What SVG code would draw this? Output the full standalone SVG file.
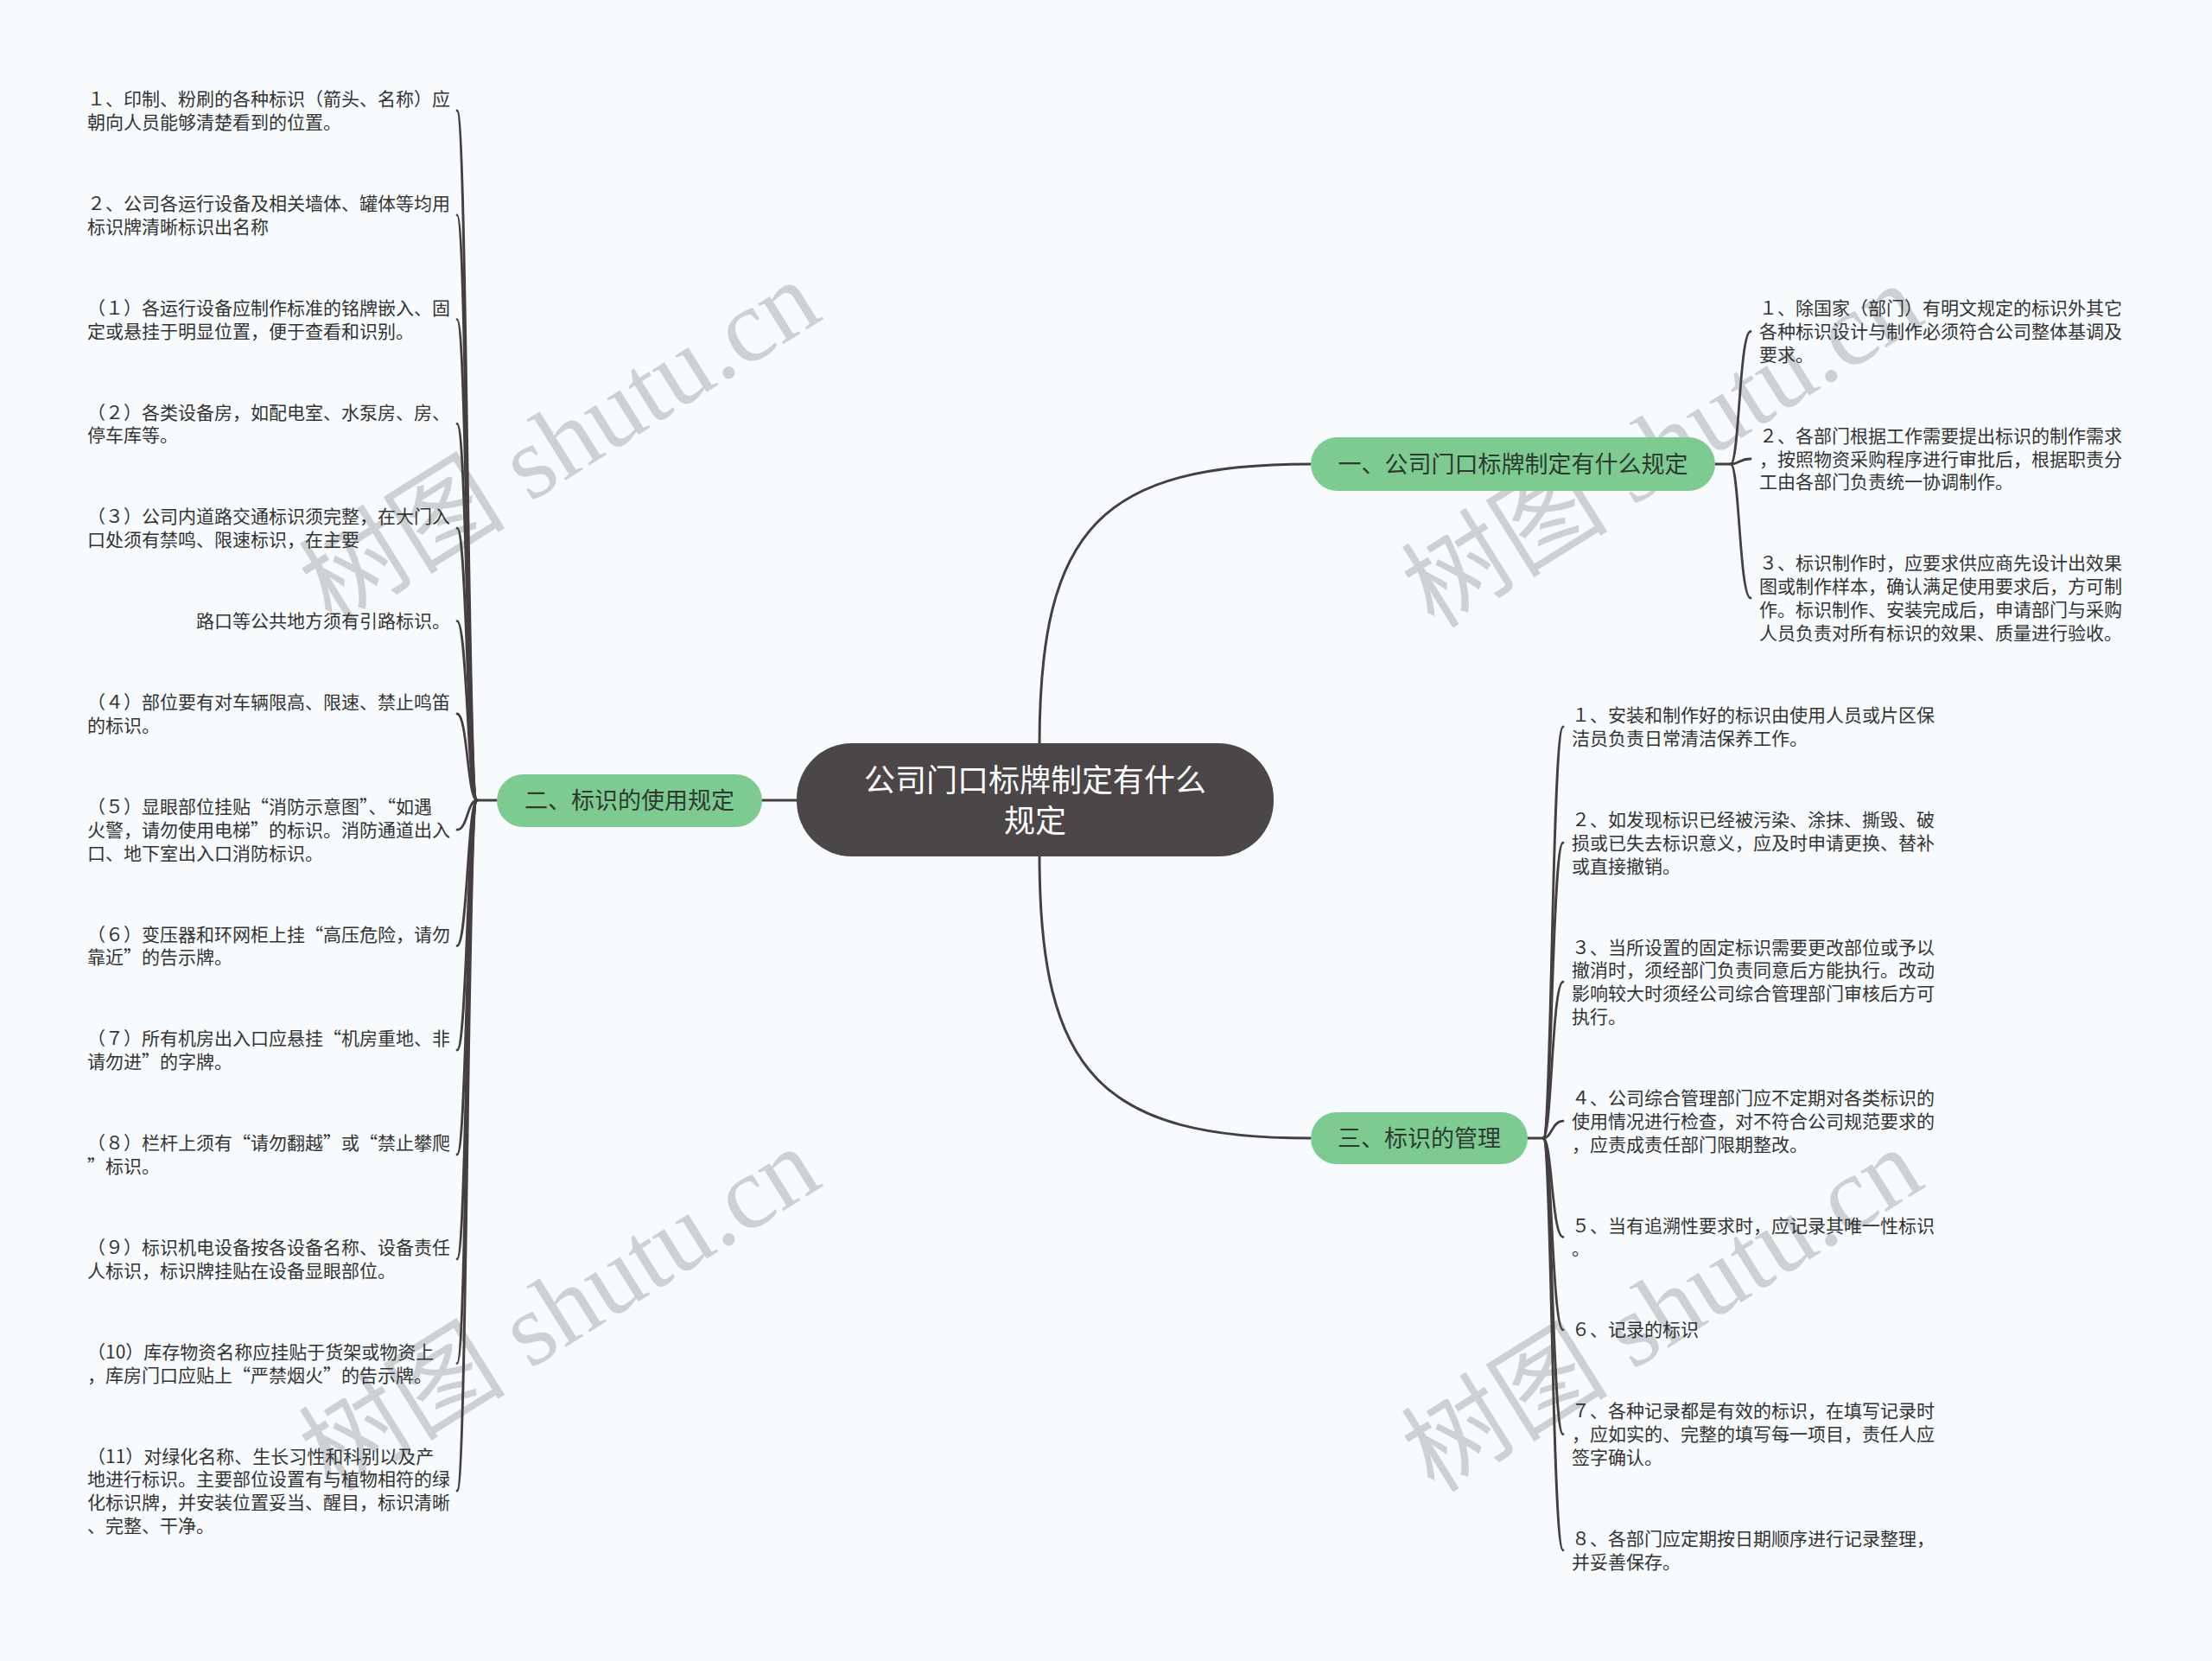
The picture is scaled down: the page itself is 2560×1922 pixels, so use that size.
<svg xmlns="http://www.w3.org/2000/svg" width="2560" height="1922" viewBox="0 0 2560 1922">
<defs>
<style>
.bg{fill:#f7fbfd}
.wm{font-family:"Liberation Serif","Noto Sans CJK SC",serif;font-size:120px;fill:#cdd1d3}
.conn{fill:none;stroke:#453f40;stroke-width:3;stroke-linecap:round}
.lc{fill:none;stroke:#453f40;stroke-width:2.8;stroke-linecap:round}
.leaf{font-family:"Noto Sans CJK SC","Noto Sans CJK JP",sans-serif;font-size:21px;fill:#333333}
.br rect{fill:#7dcb90}
.br text{font-family:"Noto Sans CJK SC",sans-serif;font-size:27px;fill:#2e3a31;text-anchor:middle}
.root rect{fill:#4b4647}
.root text{font-family:"Noto Sans CJK SC",sans-serif;font-size:36px;fill:#ffffff;text-anchor:middle}
</style>
</defs>
<rect class="bg" x="0" y="0" width="2560" height="1922"/>

<g id="watermarks">
<text class="wm" transform="translate(648,512) rotate(-32)" text-anchor="middle" dominant-baseline="central">树图 shutu.cn</text>
<text class="wm" transform="translate(1924,516) rotate(-32)" text-anchor="middle" dominant-baseline="central">树图 shutu.cn</text>
<text class="wm" transform="translate(648,1515) rotate(-32)" text-anchor="middle" dominant-baseline="central">树图 shutu.cn</text>
<text class="wm" transform="translate(1924,1516) rotate(-32)" text-anchor="middle" dominant-baseline="central">树图 shutu.cn</text>
</g>

<g id="connectors">
<path class="conn" d="M1203 862 C1203 610 1275 537 1517 537"/>
<path class="conn" d="M1203 990 C1203 1242 1275 1317 1517 1317"/>
<path class="conn" d="M922 926 L882 926"/>
<!-- branch 2 (left) -->
<path class="conn" d="M575 926 L552 926"/>
<path class="lc" d="M552 926 C541 926 541 128 529 128"/>
<path class="lc" d="M552 926 C541 926 541 248.8 529 248.8"/>
<path class="lc" d="M552 926 C541 926 541 369.6 529 369.6"/>
<path class="lc" d="M552 926 C541 926 541 490.4 529 490.4"/>
<path class="lc" d="M552 926 C541 926 541 611.2 529 611.2"/>
<path class="lc" d="M552 926 C541 926 541 718.6 529 718.6"/>
<path class="lc" d="M552 926 C541 926 541 826 529 826"/>
<path class="lc" d="M552 926 C541 926 541 960.2 529 960.2"/>
<path class="lc" d="M552 926 C541 926 541 1094.4 529 1094.4"/>
<path class="lc" d="M552 926 C541 926 541 1215.2 529 1215.2"/>
<path class="lc" d="M552 926 C541 926 541 1336 529 1336"/>
<path class="lc" d="M552 926 C541 926 541 1456.8 529 1456.8"/>
<path class="lc" d="M552 926 C541 926 541 1577.6 529 1577.6"/>
<path class="lc" d="M552 926 C541 926 541 1725.2 529 1725.2"/>
<!-- branch 1 (right top) -->
<path class="conn" d="M1985 537 L2003 537"/>
<path class="lc" d="M2003 537 C2013 537 2013 383.5 2026 383.5"/>
<path class="lc" d="M2003 537 C2013 537 2013 531 2026 531"/>
<path class="lc" d="M2003 537 C2013 537 2013 692 2026 692"/>
<!-- branch 3 (right bottom) -->
<path class="conn" d="M1768 1317 L1786 1317"/>
<path class="lc" d="M1786 1317 C1796 1317 1796 841 1809 841"/>
<path class="lc" d="M1786 1317 C1796 1317 1796 975.2 1809 975.2"/>
<path class="lc" d="M1786 1317 C1796 1317 1796 1136.2 1809 1136.2"/>
<path class="lc" d="M1786 1317 C1796 1317 1796 1297.2 1809 1297.2"/>
<path class="lc" d="M1786 1317 C1796 1317 1796 1431.4 1809 1431.4"/>
<path class="lc" d="M1786 1317 C1796 1317 1796 1538.8 1809 1538.8"/>
<path class="lc" d="M1786 1317 C1796 1317 1796 1659.6 1809 1659.6"/>
<path class="lc" d="M1786 1317 C1796 1317 1796 1793.8 1809 1793.8"/>
</g>

<g id="root" class="root">
<rect x="922" y="860" width="552" height="131" rx="64" ry="64"/>
<text x="1198" y="916">公司门口标牌制定有什么</text>
<text x="1198" y="963">规定</text>
</g>

<g id="branch1" class="br">
<rect x="1517" y="506" width="468" height="62" rx="31" ry="31"/>
<text x="1751" y="546.5">一、公司门口标牌制定有什么规定</text>
</g>
<g id="branch2" class="br">
<rect x="575" y="896" width="307" height="61" rx="30.5" ry="30.5"/>
<text x="728.5" y="935.5">二、标识的使用规定</text>
</g>
<g id="branch3" class="br">
<rect x="1517" y="1287" width="251" height="60" rx="30" ry="30"/>
<text x="1642.5" y="1326.5">三、标识的管理</text>
</g>

<g id="l1" class="leaf"><text x="101" y="122.1">１、印制、粉刷的各种标识（箭头、名称）应</text><text x="101" y="148.9">朝向人员能够清楚看到的位置。</text></g>
<g id="l2" class="leaf"><text x="101" y="242.9">２、公司各运行设备及相关墙体、罐体等均用</text><text x="101" y="269.7">标识牌清晰标识出名称</text></g>
<g id="l3" class="leaf"><text x="101" y="363.7">（１）各运行设备应制作标准的铭牌嵌入、固</text><text x="101" y="390.5">定或悬挂于明显位置，便于查看和识别。</text></g>
<g id="l4" class="leaf"><text x="101" y="484.5">（２）各类设备房，如配电室、水泵房、房、</text><text x="101" y="511.3">停车库等。</text></g>
<g id="l5" class="leaf"><text x="101" y="605.3">（３）公司内道路交通标识须完整，在大门入</text><text x="101" y="632.1">口处须有禁鸣、限速标识，在主要</text></g>
<g id="l6" class="leaf"><text x="227" y="726.1">路口等公共地方须有引路标识。</text></g>
<g id="l7" class="leaf"><text x="101" y="820.1">（４）部位要有对车辆限高、限速、禁止鸣笛</text><text x="101" y="846.9">的标识。</text></g>
<g id="l8" class="leaf"><text x="101" y="940.9">（５）显眼部位挂贴“消防示意图”、“如遇</text><text x="101" y="967.7">火警，请勿使用电梯”的标识。消防通道出入</text><text x="101" y="994.5">口、地下室出入口消防标识。</text></g>
<g id="l9" class="leaf"><text x="101" y="1088.5">（６）变压器和环网柜上挂“高压危险，请勿</text><text x="101" y="1115.3">靠近”的告示牌。</text></g>
<g id="l10" class="leaf"><text x="101" y="1209.3">（７）所有机房出入口应悬挂“机房重地、非</text><text x="101" y="1236.1">请勿进”的字牌。</text></g>
<g id="l11" class="leaf"><text x="101" y="1330.1">（８）栏杆上须有“请勿翻越”或“禁止攀爬</text><text x="101" y="1356.9">”标识。</text></g>
<g id="l12" class="leaf"><text x="101" y="1450.9">（９）标识机电设备按各设备名称、设备责任</text><text x="101" y="1477.7">人标识，标识牌挂贴在设备显眼部位。</text></g>
<g id="l13" class="leaf"><text x="101" y="1571.7">（10）库存物资名称应挂贴于货架或物资上</text><text x="101" y="1598.5">，库房门口应贴上“严禁烟火”的告示牌。</text></g>
<g id="l14" class="leaf"><text x="101" y="1692.5">（11）对绿化名称、生长习性和科别以及产</text><text x="101" y="1719.3">地进行标识。主要部位设置有与植物相符的绿</text><text x="101" y="1746.1">化标识牌，并安装位置妥当、醒目，标识清晰</text><text x="101" y="1772.9">、完整、干净。</text></g>

<g id="r1" class="leaf"><text x="2036" y="364.2">１、除国家（部门）有明文规定的标识外其它</text><text x="2036" y="391">各种标识设计与制作必须符合公司整体基调及</text><text x="2036" y="417.8">要求。</text></g>
<g id="r2" class="leaf"><text x="2036" y="511.7">２、各部门根据工作需要提出标识的制作需求</text><text x="2036" y="538.5">，按照物资采购程序进行审批后，根据职责分</text><text x="2036" y="565.3">工由各部门负责统一协调制作。</text></g>
<g id="r3" class="leaf"><text x="2036" y="659.3">３、标识制作时，应要求供应商先设计出效果</text><text x="2036" y="686.1">图或制作样本，确认满足使用要求后，方可制</text><text x="2036" y="712.9">作。标识制作、安装完成后，申请部门与采购</text><text x="2036" y="739.7">人员负责对所有标识的效果、质量进行验收。</text></g>

<g id="m1" class="leaf"><text x="1819" y="835.1">１、安装和制作好的标识由使用人员或片区保</text><text x="1819" y="861.9">洁员负责日常清洁保养工作。</text></g>
<g id="m2" class="leaf"><text x="1819" y="955.9">２、如发现标识已经被污染、涂抹、撕毁、破</text><text x="1819" y="982.7">损或已失去标识意义，应及时申请更换、替补</text><text x="1819" y="1009.5">或直接撤销。</text></g>
<g id="m3" class="leaf"><text x="1819" y="1103.5">３、当所设置的固定标识需要更改部位或予以</text><text x="1819" y="1130.3">撤消时，须经部门负责同意后方能执行。改动</text><text x="1819" y="1157.1">影响较大时须经公司综合管理部门审核后方可</text><text x="1819" y="1183.9">执行。</text></g>
<g id="m4" class="leaf"><text x="1819" y="1277.9">４、公司综合管理部门应不定期对各类标识的</text><text x="1819" y="1304.7">使用情况进行检查，对不符合公司规范要求的</text><text x="1819" y="1331.5">，应责成责任部门限期整改。</text></g>
<g id="m5" class="leaf"><text x="1819" y="1425.5">５、当有追溯性要求时，应记录其唯一性标识</text><text x="1819" y="1452.3">。</text></g>
<g id="m6" class="leaf"><text x="1819" y="1546.3">６、记录的标识</text></g>
<g id="m7" class="leaf"><text x="1819" y="1640.3">７、各种记录都是有效的标识，在填写记录时</text><text x="1819" y="1667.1">，应如实的、完整的填写每一项目，责任人应</text><text x="1819" y="1693.9">签字确认。</text></g>
<g id="m8" class="leaf"><text x="1819" y="1787.9">８、各部门应定期按日期顺序进行记录整理，</text><text x="1819" y="1814.7">并妥善保存。</text></g>
</svg>
